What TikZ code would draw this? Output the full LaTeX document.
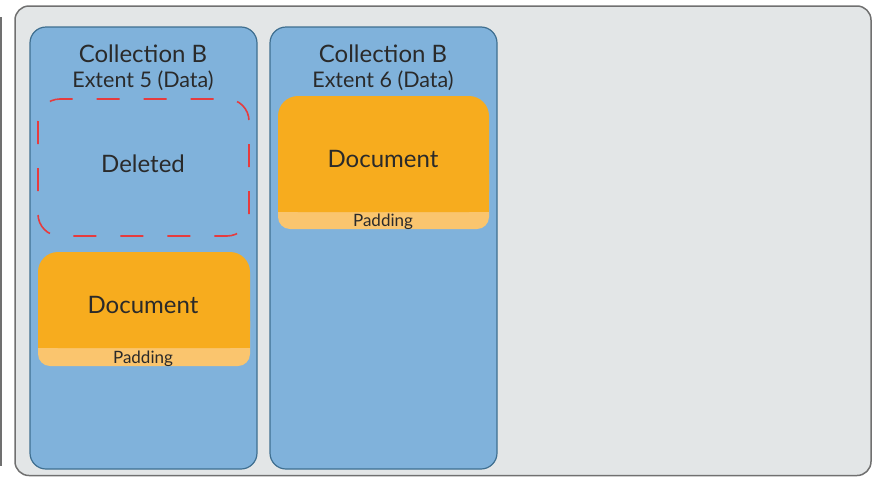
\documentclass[tikz,border=0pt]{standalone}
\usepackage{fontspec}
\setmainfont{Lato}
\definecolor{panelgray}{HTML}{E3E6E7}
\definecolor{panelline}{HTML}{707070}
\definecolor{extentblue}{HTML}{80B2DB}
\definecolor{extentline}{HTML}{3F6F90}
\definecolor{docorange}{HTML}{F7AC1E}
\definecolor{padorange}{HTML}{FAC56E}
\definecolor{delred}{HTML}{E63B3E}
\definecolor{ink}{HTML}{2A2A2A}
\tikzset{
  panel/.style={fill=panelgray, draw=panelline, line width=1.5pt, rounded corners=14pt},
  extent/.style={fill=extentblue, draw=extentline, line width=1.2pt, rounded corners=16pt},
  deleted/.style={draw=delred, line width=1.6pt, dash pattern=on 23pt off 24pt, rounded corners=22pt},
  title/.style={font=\fontsize{24}{28}\selectfont, text=ink, anchor=base, inner sep=0pt},
  subtitle/.style={font=\fontsize{21.5}{25}\selectfont, text=ink, anchor=base, inner sep=0pt},
  label/.style={font=\fontsize{17}{20}\selectfont, text=ink, anchor=base, inner sep=0pt},
}
% document block with a padding strip at its foot
\newcommand{\docblock}[5]{% left, top, right, bottom, padding top
  \fill[padorange, rounded corners=12pt] (#1,{(#2+#4)/2}) rectangle (#3,#4);
  \fill[docorange, rounded corners=20pt] (#1,#2) rectangle (#3,#5);
  \fill[docorange] (#1,#2+24) rectangle (#3,#5);
}
\begin{document}
\begin{tikzpicture}[x=1pt,y=-1pt]
\useasboundingbox (0,0) rectangle (876,477);

% edge of the neighbouring panel
\coordinate (prevtop) at (1,17);
\coordinate (prevbot) at (1,466);
\draw[panelline, line width=1.5pt] (prevtop) -- (prevbot);

% outer panel
\draw[panel] (15,6) rectangle (871,475.5);

% extents
\draw[extent] (30,27) rectangle (257,469);
\draw[extent] (270,27) rectangle (497,469);

% extent 5
\node[title] (c5) at (143,62) {Collection B};
\node[subtitle] (e5) at (143,87) {Extent 5 (Data)};
\draw[deleted] (38,99) rectangle (249,236);
\node[title] (del) at (143,172) {Deleted};
\docblock{38}{252}{250}{366}{348}
\node[title] (doc5) at (143,313) {Document};
\node[label] (pad5) at (143,363) {Padding};

% extent 6
\node[title] (c6) at (383,62) {Collection B};
\node[subtitle] (e6) at (383,87) {Extent 6 (Data)};
\docblock{278}{96}{489}{229}{212}
\node[title] (doc6) at (383,167) {Document};
\node[label] (pad6) at (383,226) {Padding};
\end{tikzpicture}
\end{document}
